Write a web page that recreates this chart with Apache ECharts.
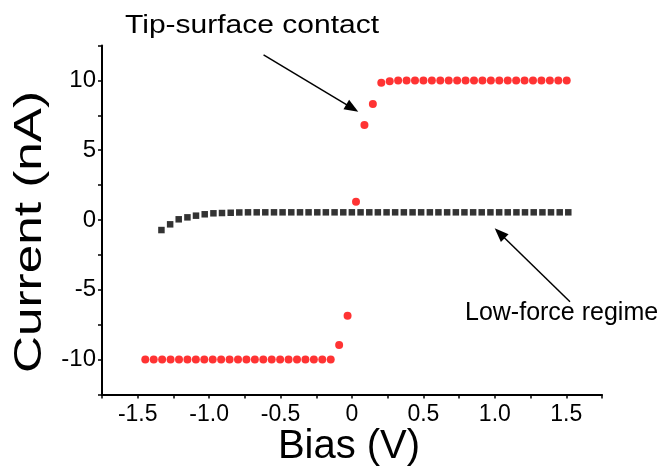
<!DOCTYPE html>
<html>
<head>
<meta charset="utf-8">
<script src="https://cdn.jsdelivr.net/npm/echarts@6/dist/echarts.min.js"></script>
<style>
html,body{margin:0;padding:0;background:#fff;}
#chart{width:662px;height:468px;}
</style>
</head>
<body>
<div id="chart"></div>
<script>
// ---- data ----
const biasRed = [-1.447,-1.388,-1.329,-1.270,-1.211,-1.152,-1.093,-1.034,-0.975,-0.916,
  -0.857,-0.798,-0.739,-0.680,-0.621,-0.562,-0.503,-0.444,-0.385,-0.326,
  -0.267,-0.208,-0.149,-0.090,-0.031,0.028,0.087,0.146,0.205,0.264,
  0.323,0.382,0.441,0.500,0.559,0.618,0.677,0.736,0.795,0.854,
  0.913,0.972,1.031,1.090,1.149,1.208,1.267,1.326,1.385,1.444,1.503];
const currentRed = [-10,-10,-10,-10,-10,-10,-10,-10,-10,-10,
  -10,-10,-10,-10,-10,-10,-10,-10,-10,-10,
  -10,-10,-10,-8.96,-6.86,1.31,6.81,8.32,9.84,9.95,
  10,10,10,10,10,10,10,10,10,10,
  10,10,10,10,10,10,10,10,10,10,10];
const biasBlack = [-1.334,-1.273,-1.213,-1.152,-1.092,-1.031,-0.970,-0.910,-0.849,-0.789,
  -0.728,-0.667,-0.607,-0.546,-0.486,-0.425,-0.364,-0.304,-0.243,-0.183,
  -0.122,-0.061,-0.001,0.060,0.121,0.181,0.242,0.302,0.363,0.424,
  0.484,0.545,0.605,0.666,0.727,0.787,0.848,0.908,0.969,1.030,
  1.090,1.151,1.211,1.272,1.333,1.393,1.454,1.514];
const currentBlack = [-0.72,-0.31,0.05,0.19,0.31,0.41,0.48,0.50,0.52,0.54,
  0.55,0.55,0.55,0.55,0.55,0.55,0.55,0.55,0.55,0.55,
  0.55,0.55,0.55,0.55,0.55,0.55,0.55,0.55,0.55,0.55,
  0.55,0.55,0.55,0.55,0.55,0.55,0.55,0.55,0.55,0.55,
  0.55,0.55,0.55,0.55,0.55,0.55,0.55,0.55];
const xTickValues = [-1.5,-1.0,-0.5,0,0.5,1.0,1.5];
const xTickLabels = ['-1.5','-1.0','-0.5','0','0.5','1.0','1.5'];
const yTickValues = [-10,-5,0,5,10];
const yTickLabels = ['-10','-5','0','5','10'];
const xTitle = 'Bias (V)';
const yTitle = 'Current (nA)';
const noteTop = 'Tip-surface contact';
const noteBottom = 'Low-force regime';
// annotation arrows (data coordinates): [tail, head]
const arrowTip = [[-0.619, 11.83], [0.002, 8.02]];
const arrowLow = [[1.526, -5.86], [1.034, -0.95]];

const FONT = "'Liberation Sans', Arial, sans-serif";
function pick(vals, labels, v) {
  for (let i = 0; i < vals.length; i++) if (Math.abs(vals[i] - v) < 1e-6) return labels[i];
  return '';
}
const redData = biasRed.map((x, i) => [x, currentRed[i]]);
const blackData = biasBlack.map((x, i) => [x, currentBlack[i]]);

const chart = echarts.init(document.getElementById('chart'), null, {renderer: 'canvas'});
chart.setOption({
  animation: false,
  backgroundColor: '#ffffff',
  grid: {left: 102, right: 60, top: 45.6, bottom: 73.6, containLabel: false},
  xAxis: {
    type: 'value', min: -1.75, max: 1.75, interval: 0.25,
    axisLine: {show: true, onZero: false, lineStyle: {color: '#000', width: 2}},
    axisTick: {show: true, length: 4, inside: false, lineStyle: {color: '#000', width: 1.5}},
    axisLabel: {interval: 0, margin: 9, color: '#000', fontSize: 23, fontFamily: FONT,
      formatter: v => pick(xTickValues, xTickLabels, v)},
    splitLine: {show: false}
  },
  yAxis: {
    type: 'value', min: -12.5, max: 12.5, interval: 2.5,
    axisLine: {show: true, onZero: false, lineStyle: {color: '#000', width: 2}},
    axisTick: {show: true, length: 4, inside: false, lineStyle: {color: '#000', width: 1.5}},
    axisLabel: {interval: 0, margin: 6, color: '#000', fontSize: 24, fontFamily: FONT,
      formatter: v => pick(yTickValues, yTickLabels, v)},
    splitLine: {show: false}
  },
  series: [
    {
      type: 'scatter', name: 'contact', data: redData,
      symbol: 'circle', symbolSize: 8,
      itemStyle: {color: '#f00'},
      silent: true, z: 3
    },
    {
      type: 'scatter', name: 'lowforce', data: blackData,
      symbol: 'rect', symbolSize: 6.5,
      itemStyle: {color: '#000'},
      silent: true, z: 2,
      markLine: {
        silent: true, animation: false,
        symbol: ['none', 'triangle'], symbolSize: [11, 14],
        label: {show: false},
        lineStyle: {color: '#000', width: 1.5, type: 'solid'},
        data: [
          [{coord: arrowTip[0]}, {coord: arrowTip[1]}],
          [{coord: arrowLow[0]}, {coord: arrowLow[1]}]
        ]
      }
    }
  ],
  graphic: [
    {type: 'text', x: 125, y: 26, style: {text: noteTop, font: '25px ' + FONT, fill: '#000',
      textAlign: 'left', textVerticalAlign: 'middle'}, scaleX: 1.2},
    {type: 'text', x: 465, y: 313, style: {text: noteBottom, font: '25px ' + FONT, fill: '#000',
      textAlign: 'left', textVerticalAlign: 'middle'}},
    {type: 'text', x: 349, y: 447, style: {text: xTitle, font: '40px ' + FONT, fill: '#000',
      textAlign: 'center', textVerticalAlign: 'middle'}},
    {type: 'text', x: 31, y: 232, rotation: Math.PI / 2, scaleX: 1.35,
      style: {text: yTitle, font: '38px ' + FONT, fill: '#000',
      textAlign: 'center', textVerticalAlign: 'middle'}}
  ]
});
</script>
</body>
</html>
